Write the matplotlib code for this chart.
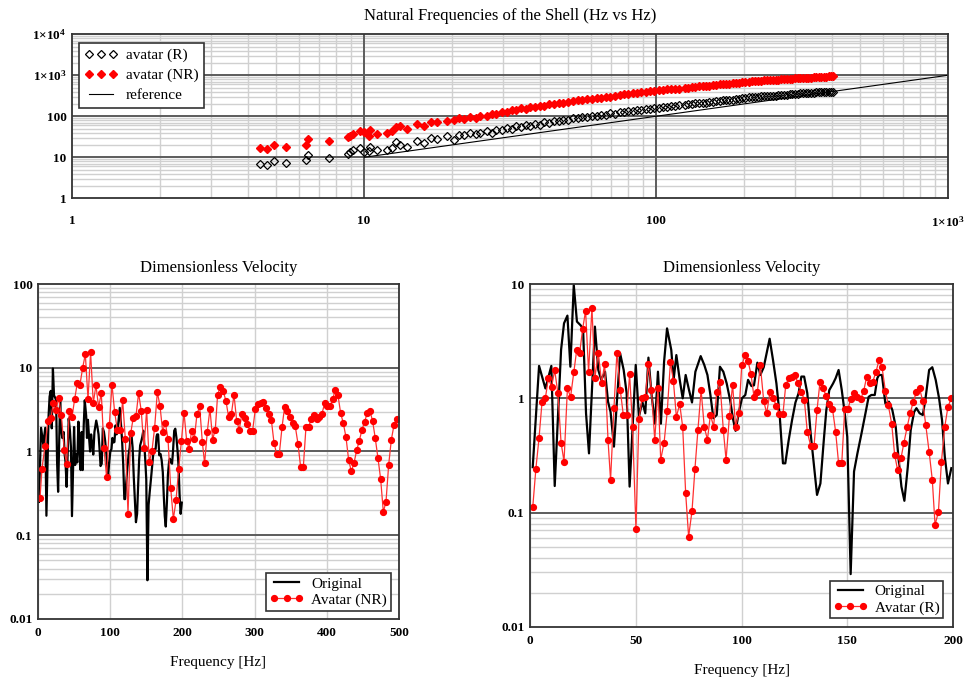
import matplotlib.pyplot as plt
from matplotlib.ticker import LogLocator, NullFormatter
import numpy as np

plt.rcParams['font.family'] = ['Liberation Serif', 'DejaVu Serif']
plt.rcParams['mathtext.fontset'] = 'custom'
plt.rcParams['mathtext.rm'] = 'Liberation Serif'
plt.rcParams['mathtext.bf'] = 'Liberation Serif:bold'

# --- natural frequencies: original [Hz] vs avatar [Hz] ---
shell_f = [4.41, 4.65, 4.90, 5.39, 6.34, 6.43, 7.57, 8.81, 8.98, 9.15, 9.71, 9.97, 10.4, 10.5,
           11.1, 12.0, 12.5, 12.9, 13.3, 14.0, 15.2, 16.0, 16.9, 17.8, 19.2, 20.3, 21.1,
           22.0, 23.0, 24.2, 25.0, 26.3, 27.5, 28.4, 29.6, 30.8, 32.0, 33.1, 34.5, 35.8, 37.0,
           38.6, 40.1, 41.5, 43.0, 44.8, 46.5, 48.2, 50.0, 52.0, 54.1, 56.0, 58.2, 60.5, 62.6,
           65.0, 67.4, 69.8, 72.3, 75.0, 77.6, 80.4, 83.2, 86.0, 89.1, 92.3, 95.5, 98.6, 102.0,
           105.5, 109.0, 112.6, 116.0, 119.5, 125.6, 129.0, 132.8, 136.5, 140.4, 144.3, 148.0,
           152.2, 156.5, 160.8, 165.0, 169.4, 174.0, 178.5, 183.2, 188.0, 192.8, 197.6, 202.5,
           207.5, 212.6, 217.8, 223.0, 228.4, 233.9, 239.5, 245.1, 250.8, 256.6, 262.5, 268.4,
           274.5, 280.6, 286.8, 293.1, 299.5, 306.0, 312.5, 319.1, 325.8, 332.6, 339.5, 346.5,
           353.6, 360.8, 368.1, 375.5, 383.0, 390.6, 398.3, 404.0]
shell_r = [6.7, 6.6, 8.3, 7.1, 8.6, 11.4, 9.4, 12.1, 13.8, 15.1, 17.3, 13.8, 14.6, 17.6,
           15.1, 15.1, 16.6, 23.0, 20.1, 17.6, 25.2, 22.1, 29.3, 27.7, 32.2, 26.7, 35.4,
           35, 39, 36, 40, 44, 40, 47, 46, 53, 49, 57, 55, 61, 58,
           66, 63, 71, 68, 76, 75, 83, 82, 89, 91, 98, 97, 104, 103,
           110, 109, 117, 116, 124, 124, 132, 132, 140, 140, 148, 149, 157, 158,
           167, 168, 177, 178, 188, 190, 198, 197, 205, 205, 213, 213,
           222, 224, 233, 234, 244, 245, 254, 256, 266, 268, 277, 278,
           287, 288, 295, 296, 304, 304, 313, 313, 321, 321, 329, 329,
           337, 337, 345, 345, 353, 353, 360, 360, 368, 367, 375, 374,
           382, 381, 388, 387, 394, 393, 398, 399]
shell_nr = [17.3, 16.3, 20.1, 18.3, 20.1, 28.3, 24.7, 31.0, 33.5, 37.5, 42.8, 40.4, 33.5, 45.3,
            37.5, 38.9, 42.8, 54.7, 56.8, 48.9, 64.7, 56.8, 72.5, 71.0, 78.0, 83.0, 91.0,
            86, 95, 93, 101, 104, 116, 114, 129, 128, 142, 141, 155, 154, 166,
            168, 182, 181, 196, 196, 213, 213, 229, 232, 248, 250, 265, 268, 283,
            286, 300, 302, 318, 322, 340, 344, 361, 364, 383, 387, 406, 410, 432,
            435, 456, 458, 474, 475, 498, 502, 518, 520, 535, 538, 552,
            560, 578, 584, 599, 605, 620, 626, 642, 648, 665, 671, 689,
            697, 712, 718, 732, 738, 750, 755, 767, 771, 784, 788, 800,
            804, 816, 820, 832, 836, 848, 851, 863, 866, 878, 881, 892,
            896, 908, 913, 926, 932, 946, 951, 961]
ref_f = [10, 1000]

# --- original dimensionless velocity (0-200 Hz) ---
orig_f = [1.3, 4.3, 7.3, 10.1, 11.7, 14.7, 16.1, 17.7, 19.1, 20.7, 22.2, 23.8, 25.1, 26.5, 27.9,
          30.7, 32.3, 33.7, 35.5, 36.9, 38.1, 39.7, 42.6, 44.3, 45.7, 47.1, 50.0, 51.5, 53.1,
          54.5, 56.0, 57.5, 59.1, 60.5, 61.9, 63.4, 64.8, 66.8, 67.9, 69.2, 70.8, 72.2, 73.6,
          75.2, 76.6, 78.2, 80.7, 82.4, 83.9, 85.3, 86.7, 88.3, 89.8, 91.4, 93.0, 94.6, 96.1,
          97.2, 98.8, 100.2, 101.8, 103.1, 104.7, 105.9, 107.5, 108.9, 110.5, 113.3, 114.9,
          116.5, 118.1, 119.6, 120.7, 122.3, 123.9, 125.5, 127.0, 128.3, 129.6, 131.1, 132.7,
          135.7, 137.3, 138.9, 140.1, 141.5, 143.3, 144.5, 145.9, 147.4, 148.8, 150.0, 151.6,
          153.2, 154.8, 156.7, 158.6, 160.1, 161.4, 163.0, 164.2, 165.0, 166.4, 168.0, 169.7,
          171.3, 172.9, 174.3, 175.6, 177.0, 178.6, 180.0, 181.6, 182.7, 184.2, 185.7, 186.9,
          188.7, 190.2, 191.8, 193.4, 194.8, 196.1, 197.6, 199.2]
orig_v = [0.25, 1.92, 1.22, 1.92, 0.171, 2.65, 4.53, 5.29, 1.89, 9.8, 4.69, 4.38, 4.09, 0.74, 0.33,
          4.24, 1.77, 1.45, 1.71, 0.935, 0.76, 0.378, 2.48, 1.77, 1.11, 0.169, 1.96, 0.69, 0.935,
          0.74, 2.27, 1.07, 0.60, 1.71, 0.60, 2.09, 4.09, 2.65, 1.45, 2.39, 1.45, 1.0, 1.60,
          1.18, 0.92, 1.71, 2.34, 1.96, 1.60, 1.07, 0.67, 0.715, 1.89, 1.71, 1.35, 0.967, 0.645,
          0.52, 0.76, 1.0, 1.07, 1.45, 1.28, 1.30, 2.05, 1.60, 1.87, 3.32, 2.16,
          1.35, 0.69, 0.27, 0.27, 0.43, 0.645, 0.92, 1.11, 1.55, 1.55, 1.11, 0.49,
          0.143, 0.18, 0.43, 0.79, 1.18, 1.35, 1.50, 1.77, 1.18, 0.74, 0.46, 0.029,
          0.229, 0.33, 0.49, 0.74, 1.03, 1.07, 1.07, 1.50, 1.60, 1.60, 0.90, 0.935,
          0.79, 0.565, 0.29, 0.169, 0.127, 0.25, 0.53, 0.76, 0.82, 0.74, 0.715, 0.967,
          1.77, 1.87, 1.45, 1.0, 0.645, 0.31, 0.18, 0.245]

# --- avatar (NR), 0-500 Hz ---
nr_f = [2.8, 5.5, 9.7, 13.9, 18.0, 21.2, 24.9, 28.6, 32.3, 36.5, 39.7, 43.4, 47.1, 50.8, 54.5,
        58.2, 61.9, 65.6, 69.3, 72.9, 76.6, 80.3, 84.0, 87.7, 91.4, 95.1, 98.8, 102.5, 106.2,
        109.9, 113.6, 117.3, 121.0, 124.7, 128.4, 132.0, 135.7, 139.4, 143.1, 146.8, 150.5,
        154.2, 157.9, 161.6, 165.3, 169.0, 172.7, 176.4, 180.1, 183.8, 187.5, 191.2, 194.9,
        198.6, 202.3, 205.9, 209.1, 212.8, 216.5, 220.2, 223.9, 227.6, 230.8, 234.5, 238.2,
        241.9, 245.6, 248.8, 252.5, 256.7, 260.4, 264.1, 267.8, 271.5, 275.2, 278.8, 282.5,
        286.2, 289.9, 293.6, 297.3, 301.0, 304.7, 308.4, 312.1, 315.8, 319.5, 323.2, 326.9,
        330.6, 334.3, 338.0, 341.6, 345.3, 349.0, 352.7, 356.4, 360.1, 363.8, 367.5, 371.2,
        374.9, 378.6, 382.3, 386.0, 389.7, 393.4, 397.1, 400.7, 404.4, 408.1, 411.8, 415.5,
        419.2, 422.9, 426.6, 430.3, 434.0, 437.7, 441.4, 445.1, 448.8, 452.4, 456.1, 459.8,
        463.5, 467.2, 470.9, 474.6, 478.3, 482.0, 485.7, 489.4, 493.1, 496.8]
nr_v = [0.275, 0.62, 1.15, 2.34, 2.52, 3.76, 3.13, 4.35, 2.76, 1.03, 0.71, 3.08, 2.56, 4.2, 6.6,
        6.3, 10.0, 14.5, 4.24, 15.4, 3.76, 6.2, 3.37, 5.0, 1.09, 0.49, 2.06, 6.3, 2.97,
        1.81, 1.81, 4.08, 1.40, 0.18, 1.64, 2.54, 2.63, 5.0, 3.02, 1.09, 3.13,
        0.74, 1.02, 1.93, 5.13, 3.5, 1.73, 2.21, 1.40, 0.37, 0.156, 0.26, 0.62,
        1.32, 2.91, 1.35, 1.08, 1.75, 1.40, 2.79, 3.45, 1.31, 0.72, 1.72, 3.24,
        1.39, 1.83, 4.75, 5.87, 5.21, 4.0, 2.55, 2.77, 4.75, 2.33, 1.83, 2.82,
        2.52, 2.14, 1.77, 1.78, 3.18, 3.65, 3.78, 3.92, 3.33, 2.82, 2.39, 1.27,
        0.93, 0.94, 1.95, 3.39, 3.03, 2.57, 2.18, 1.99, 1.24, 0.65, 0.65, 1.97,
        1.97, 2.45, 2.74, 2.41, 2.55, 2.84, 3.78, 3.45, 3.45, 4.19, 5.46, 4.71,
        2.87, 2.18, 1.48, 0.79, 0.58, 0.73, 1.03, 1.35, 1.82, 2.28, 2.87, 3.06,
        2.3, 1.43, 0.83, 0.47, 0.19, 0.25, 0.69, 1.38, 2.07, 2.45]

# --- avatar (R), 0-200 Hz ---
r_f = [1.3, 2.8, 4.3, 5.7, 7.3, 8.7, 10.2, 11.7, 13.2, 14.7, 16.1, 17.7, 19.2, 20.7, 22.1,
       23.5, 24.9, 26.3, 27.7, 29.3, 30.7, 32.3, 33.9, 35.3, 36.9, 38.1, 39.7, 41.1, 42.7,
       44.1, 45.7, 47.1, 48.5, 50.1, 51.5, 53.0, 54.5, 56.0, 57.4, 59.0, 60.5, 61.8, 63.4,
       64.9, 66.4, 67.8, 69.2, 70.8, 72.2, 73.6, 75.0, 76.6, 78.0, 79.4, 80.9, 82.4, 83.9,
       85.3, 86.8, 88.3, 89.8, 91.4, 92.7, 94.3, 95.8, 97.2, 98.8, 100.1, 101.7, 103.1,
       104.5, 105.9, 107.5, 108.9, 110.5, 111.9, 113.5, 114.9, 116.5, 117.9, 119.6, 120.9,
       122.3, 123.9, 125.3, 126.7, 128.3, 129.7, 131.1, 132.7, 134.3, 135.7, 137.1, 138.5,
       140.1, 141.5, 143.0, 144.5, 145.9, 147.4, 148.8, 150.4, 151.6, 153.2, 154.8, 156.4,
       157.8, 159.2, 160.6, 162.0, 163.6, 165.0, 166.4, 168.0, 169.4, 171.0, 172.4, 173.8,
       175.4, 176.8, 178.3, 179.8, 181.2, 182.7, 184.2, 185.7, 187.1, 188.7, 190.2, 191.5,
       193.1, 194.5, 196.1, 197.6, 199.2]
r_v = [0.111, 0.243, 0.453, 0.93, 1.01, 1.50, 1.26, 1.76, 1.11, 0.41, 0.28, 1.22, 1.03, 1.69,
       2.65, 2.51, 4.04, 5.84, 1.70, 6.21, 1.51, 2.51, 1.35, 2.01, 0.43, 0.193, 0.82, 2.51,
       1.18, 0.72, 0.72, 1.62, 0.565, 0.072, 0.655, 1.0, 1.03, 2.0, 1.18, 0.43, 1.24, 0.29,
       0.41, 0.77, 2.08, 1.42, 0.69, 0.89, 0.56, 0.148, 0.0617, 0.1035, 0.243, 0.53, 1.18,
       0.56, 0.435, 0.72, 0.565, 1.135, 1.39, 0.53, 0.29, 0.70, 1.32, 0.565, 0.75, 1.94,
       2.38, 2.12, 1.62, 1.03, 1.135, 1.94, 0.95, 0.74, 1.135, 1.01, 0.857, 0.73, 0.73,
       1.30, 1.50, 1.55, 1.60, 1.35, 1.135, 0.967, 0.51, 0.385, 0.385, 0.79, 1.39, 1.22,
       1.05, 0.90, 0.81, 0.51, 0.27, 0.27, 0.81, 0.81, 0.986, 1.11, 1.03, 0.99, 1.17,
       1.55, 1.37, 1.39, 1.71, 2.16, 1.89, 1.17, 0.87, 0.60, 0.32, 0.236, 0.30, 0.41,
       0.56, 0.75, 0.93, 1.14, 1.22, 0.94, 0.58, 0.34, 0.193, 0.078, 0.102, 0.277, 0.565,
       0.845, 1.0]

MAJ = '#5c5c5c'
MIN = '#d0d0d0'


def log_grid(ax, axis, lo, hi):
    sub = LogLocator(base=10, subs=np.arange(2, 10), numticks=50)
    a = ax.yaxis if axis == 'y' else ax.xaxis
    a.set_minor_locator(sub)
    a.set_minor_formatter(NullFormatter())
    ax.grid(which='minor', axis=axis, color=MIN, lw=1.0)
    # decade lines drawn above the minor grid so they stay solid
    for k in range(lo, hi + 1):
        if axis == 'y':
            ax.axhline(10.0 ** k, color=MAJ, lw=1.4, zorder=0.8)
        else:
            ax.axvline(10.0 ** k, color=MAJ, lw=1.4, zorder=0.8)


def frame(ax):
    ax.set_axisbelow(True)
    for s in ax.spines.values():
        s.set_color('#333333')
        s.set_linewidth(1.3)
    ax.tick_params(which='both', length=0)


fig = plt.figure(figsize=(9.71, 6.85), dpi=100)
ax_top = fig.add_axes([0.0742, 0.7105, 0.9021, 0.2395])
ax_l = fig.add_axes([0.0391, 0.0964, 0.3718, 0.4890])
ax_r = fig.add_axes([0.5458, 0.0847, 0.4357, 0.5007])

# top: natural frequencies
ax_top.set_xscale('log')
ax_top.set_yscale('log')
ax_top.plot(shell_f, shell_r, 'D', ms=3.9, mfc='none', mec='black', mew=0.9, label='avatar (R)')
ax_top.plot(shell_f, shell_nr, 'D', ms=4.0, color='red', mec='red', label='avatar (NR)')
ax_top.plot(ref_f, ref_f, color='black', lw=0.8, label='reference')
ax_top.set_xlim(1, 1000)
ax_top.set_ylim(1, 1e4)
log_grid(ax_top, 'x', 1, 2)
log_grid(ax_top, 'y', 1, 3)
frame(ax_top)
ax_top.set_xticks([1, 10, 100, 1000], ['1', '10', '100', r'$\mathbf{1{\times}10^{3}}$'],
                  fontweight='bold', fontsize=9.5)
ax_top.set_yticks([1, 10, 100, 1000, 1e4],
                  ['1', '10', '100', r'$\mathbf{1{\times}10^{3}}$', r'$\mathbf{1{\times}10^{4}}$'],
                  fontweight='bold', fontsize=9.5)
ax_top.tick_params(axis='x', pad=12)
ax_top.tick_params(axis='y', pad=4)
ax_top.set_title('Natural Frequencies of the Shell (Hz vs Hz)', fontsize=12, pad=10)
leg = ax_top.legend(loc='upper left', bbox_to_anchor=(0.008, 0.945), borderaxespad=0,
                    numpoints=3, fontsize=11, fancybox=False, framealpha=1,
                    edgecolor='#333333', handlelength=2.2, handletextpad=0.5,
                    labelspacing=0.4, borderpad=0.35)
leg.get_frame().set_linewidth(1.2)


def velocity_panel(ax, af, av, label, xmax, xstep, lo, hi):
    ax.set_yscale('log')
    ax.plot(orig_f, orig_v, color='black', lw=1.6, label='Original')
    ax.plot(af, av, '-o', color='#ff3030', lw=0.9, ms=4.2, mfc='red', mec='red', label=label)
    ax.set_xlim(0, xmax)
    ax.set_ylim(10.0 ** lo, 10.0 ** hi)
    log_grid(ax, 'y', lo + 1, hi - 1)
    ax.grid(which='major', axis='x', color=MIN, lw=1.0)
    frame(ax)
    xt = np.arange(0, xmax + 1, xstep)
    ax.set_xticks(xt, [str(int(v)) for v in xt], fontweight='bold', fontsize=9.5)
    dec = [10.0 ** k for k in range(lo, hi + 1)]
    ax.set_yticks(dec, ['%g' % d for d in dec], fontweight='bold', fontsize=9.5)
    ax.tick_params(axis='x', pad=6)
    ax.tick_params(axis='y', pad=4)
    ax.set_title('Dimensionless Velocity', fontsize=12, pad=9)
    ax.set_xlabel('Frequency [Hz]', fontsize=11, labelpad=12)
    lg = ax.legend(loc='lower right', bbox_to_anchor=(0.977, 0.025), borderaxespad=0,
                   numpoints=3, fontsize=11, fancybox=False, framealpha=1,
                   edgecolor='#333333', handlelength=2.2, handletextpad=0.5,
                   labelspacing=0.15, borderpad=0.25)
    lg.get_frame().set_linewidth(1.2)


velocity_panel(ax_l, nr_f, nr_v, 'Avatar (NR)', 500, 100, -2, 2)
velocity_panel(ax_r, r_f, r_v, 'Avatar (R)', 200, 50, -2, 1)

fig.savefig('out.png', dpi=100)
